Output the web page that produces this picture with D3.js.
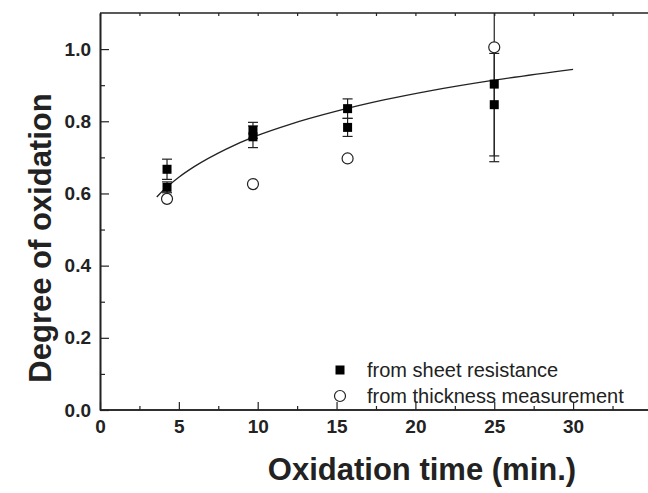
<!DOCTYPE html>
<html>
<head>
<meta charset="utf-8">
<script src="https://cdn.jsdelivr.net/npm/d3@7"></script>
<style>
  body { margin: 0; background: #fff; }
  text { font-family: "Liberation Sans", Arial, sans-serif; }
</style>
</head>
<body>
<script>
// oxidation times (min.)
var times = [4.25, 9.7, 15.7, 25];

// sheet resistance: two samples per time, with error
var sheetA = [0.667, 0.775, 0.835, 0.903];
var sheetAErr = [0.028, 0.022, 0.027, 0.215];
var sheetB = [0.617, 0.757, 0.783, 0.846];
var sheetBErr = [0.015, 0.03, 0.025, 0.142];

// thickness measurement
var thick = [0.585, 0.626, 0.697, 1.005];

// fitted curve
var fitT = [3.6, 4, 5, 6, 8, 10, 12, 15, 18, 21, 25, 30];
var fitY = [0.590, 0.608, 0.645, 0.675, 0.723, 0.761, 0.791, 0.828, 0.859, 0.885, 0.914, 0.944];

var xTicks = [0, 5, 10, 15, 20, 25, 30];
var yTicks = [0.0, 0.2, 0.4, 0.6, 0.8, 1.0];

var W = 648, H = 493;
var plotLeft = 100, plotTop = 13, plotBottom = 410;

var svg = d3.select("body").append("svg")
    .attr("width", W).attr("height", H);

var x = d3.scaleLinear().domain([0, 35]).range([plotLeft, plotLeft + 35 * 15.77]);
var y = d3.scaleLinear().domain([0, 1.1]).range([plotBottom, plotTop]);

svg.append("clipPath").attr("id", "plot")
  .append("rect")
    .attr("x", plotLeft).attr("y", plotTop)
    .attr("width", W - plotLeft).attr("height", plotBottom - plotTop);

// axes
var minorX = [2.5, 7.5, 12.5, 17.5, 22.5, 27.5, 32.5];
var minorY = [0.1, 0.3, 0.5, 0.7, 0.9];

var xAxis = svg.append("g")
    .attr("transform", "translate(0," + plotBottom + ")")
    .call(d3.axisBottom(x).tickValues(xTicks).tickSizeInner(-8).tickSizeOuter(0).tickPadding(10));
var xMinor = svg.append("g")
    .attr("transform", "translate(0," + plotBottom + ")")
    .call(d3.axisBottom(x).tickValues(minorX).tickSizeInner(-4).tickSizeOuter(0).tickFormat(""));

var yAxis = svg.append("g")
    .attr("transform", "translate(" + plotLeft + ",0)")
    .call(d3.axisLeft(y).tickValues(yTicks).tickSizeInner(-9).tickSizeOuter(0).tickPadding(9)
      .tickFormat(d3.format(".1f")));
svg.append("g")
    .attr("transform", "translate(" + plotLeft + ",0)")
    .call(d3.axisLeft(y).tickValues(minorY).tickSizeInner(-5).tickSizeOuter(0).tickFormat(""));

// top frame line with small ticks
var topAxis = svg.append("g")
    .attr("transform", "translate(0," + plotTop + ")")
    .call(d3.axisTop(x).tickValues(xTicks.concat(minorX)).tickSizeInner(-3).tickSizeOuter(0).tickFormat(""));

svg.selectAll(".domain").attr("stroke", "#222").attr("stroke-width", 1.6);
svg.selectAll(".tick line").attr("stroke", "#222").attr("stroke-width", 1.2);
svg.selectAll(".tick text")
    .attr("fill", "#222")
    .style("font-size", "19px")
    .style("font-weight", "bold");
// bottom and top lines run to the picture edge
[xAxis, xMinor, topAxis].forEach(function(a) {
  a.select(".domain").attr("d", "M" + plotLeft + ",0H" + W);
});

var plot = svg.append("g").attr("clip-path", "url(#plot)");

// fitted curve
var line = d3.line()
    .x(function(d, i) { return x(fitT[i]); })
    .y(function(d) { return y(d); })
    .curve(d3.curveMonotoneX);
plot.append("path")
    .datum(fitY)
    .attr("fill", "none")
    .attr("stroke", "#222")
    .attr("stroke-width", 1.3)
    .attr("d", line);

// error bars
function errorBars(vals, errs) {
  var g = plot.append("g").attr("stroke", "#222").attr("stroke-width", 1.2);
  times.forEach(function(t, i) {
    var cx = x(t), lo = y(vals[i] - errs[i]), hi = y(vals[i] + errs[i]);
    g.append("line").attr("x1", cx).attr("x2", cx).attr("y1", lo).attr("y2", hi);
    g.append("line").attr("x1", cx - 5).attr("x2", cx + 5).attr("y1", lo).attr("y2", lo);
    g.append("line").attr("x1", cx - 5).attr("x2", cx + 5).attr("y1", hi).attr("y2", hi);
  });
}
errorBars(sheetA, sheetAErr);
errorBars(sheetB, sheetBErr);

// squares
[sheetA, sheetB].forEach(function(series) {
  plot.selectAll(null)
    .data(series)
    .enter().append("rect")
      .attr("x", function(d, i) { return x(times[i]) - 4.5; })
      .attr("y", function(d) { return y(d) - 4.5; })
      .attr("width", 9).attr("height", 9)
      .attr("fill", "#000");
});

// circles
plot.selectAll(null)
  .data(thick)
  .enter().append("circle")
    .attr("cx", function(d, i) { return x(times[i]); })
    .attr("cy", function(d) { return y(d); })
    .attr("r", 5.5)
    .attr("fill", "#fff")
    .attr("stroke", "#222")
    .attr("stroke-width", 1.2);

// legend
var legend = svg.append("g");
legend.append("rect")
    .attr("x", 340 - 4.5).attr("y", 370 - 4.5)
    .attr("width", 9).attr("height", 9).attr("fill", "#000");
legend.append("circle")
    .attr("cx", 340).attr("cy", 396).attr("r", 5.5)
    .attr("fill", "#fff").attr("stroke", "#222").attr("stroke-width", 1.2);
legend.append("text")
    .attr("x", 367).attr("y", 370).attr("dy", "0.35em")
    .style("font-size", "20px").attr("fill", "#222")
    .text("from sheet resistance");
legend.append("text")
    .attr("x", 367).attr("y", 396).attr("dy", "0.35em")
    .style("font-size", "20px").attr("fill", "#222")
    .text("from thickness measurement");

// axis titles
svg.append("text")
    .attr("x", 422).attr("y", 480)
    .attr("text-anchor", "middle")
    .style("font-size", "31px").style("font-weight", "bold")
    .attr("fill", "#222")
    .text("Oxidation time (min.)");

svg.append("text")
    .attr("transform", "translate(51,238)rotate(-90)")
    .attr("text-anchor", "middle")
    .style("font-size", "31px").style("font-weight", "bold")
    .attr("fill", "#222")
    .text("Degree of oxidation");
</script>
</body>
</html>
